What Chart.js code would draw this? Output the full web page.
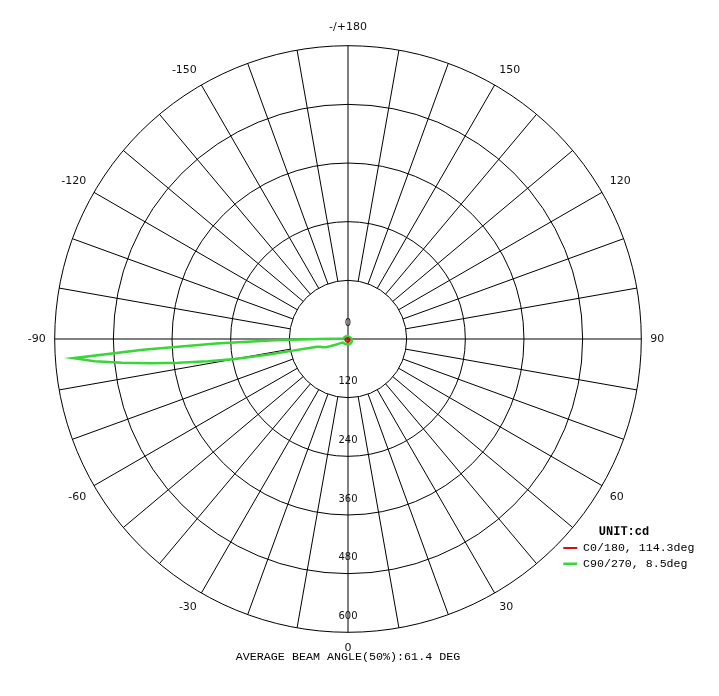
<!DOCTYPE html>
<html>
<head>
<meta charset="utf-8">
<script src="https://cdn.jsdelivr.net/npm/chart.js"></script>
<style>
  html, body { margin: 0; padding: 0; background: #ffffff; }
  canvas { display: block; }
</style>
</head>
<body>
<canvas id="c" width="719" height="696"></canvas>
<script>
// ---- data ----
// angle tick labels (gamma), clockwise from the top
const gammaTickAngles = [180, 150, 120, 90, 60, 30, 0, -30, -60, -90, -120, -150];
const gammaTickLabels = ['-/+180', '150', '120', '90', '60', '30', '0', '-30', '-60', '-90', '-120', '-150'];
// radial (intensity) ticks, cd
const ringTicks = [0, 120, 240, 360, 480, 600];

// C0/180 curve (cd) at gamma angles
const c0Angles = [180, 150, 120, 90, 60, 30, 0, -30, -60, -90, -120, -150];
const c0Values = [2, 2, 2, 3, 4, 5, 6, 6, 6, 5, 3, 2];

// C90/270 curve (cd) at gamma angles
const c90Angles = [180, 165, 150, 135, 120, 105, 90, 75, 60, 45, 30, 15, 0, -15, -30, -45, -55, -60, -62, -65,
                   -68, -70, -72, -74, -76, -77, -78, -79, -80, -81, -82, -83, -84, -85, -86, -87, -88, -89, -90, -91,
                   -92, -95, -105, -120, -135, -150, -165];
const c90Values = [6, 5, 5, 5, 5, 6, 7, 8, 9, 10, 10, 11, 11, 11, 12, 12, 13, 16, 19, 28,
                   40, 50, 55, 58, 65, 85, 112, 165, 235, 290, 350, 405, 465, 520, 563, 420, 270, 150, 60, 22,
                   12, 10, 9, 8, 7, 7, 6];

const seriesLabels = ['C0/180, 114.3deg', 'C90/270, 8.5deg'];
const unitText = 'UNIT:cd';
const footerText = 'AVERAGE BEAM ANGLE(50%):61.4 DEG';

// ---- build the radar categories (1 degree steps, clockwise from top) ----
const categories = [];
for (let i = 0; i < 360; i++) categories.push(180 - i);
function idxOf(a) { return (((180 - a) % 360) + 360) % 360; }
function toSeries(angles, values) {
  const arr = new Array(categories.length).fill(null);
  angles.forEach((a, k) => { arr[idxOf(a)] = values[k]; });
  return arr;
}

const RED = '#c81414';
const GREEN = 'rgb(55,215,55)';

const ringLabelPlugin = {
  id: 'ringLabels',
  beforeDatasetsDraw(chart) {
    const s = chart.scales.r;
    const ctx = chart.ctx;
    ctx.save();
    ctx.font = '10px "DejaVu Sans"';
    ctx.fillStyle = '#111';
    ctx.textAlign = 'center';
    ctx.textBaseline = 'middle';
    ringTicks.forEach(v => {
      ctx.fillText(String(v), s.xCenter, s.yCenter + s.getDistanceFromCenterForValue(v) - 16);
    });
    ctx.restore();
  }
};

const legendPlacePlugin = {
  id: 'legendPlace',
  afterLayout(chart) {
    const lg = chart.legend;
    if (!lg) return;
    lg.left = 559.3;
    lg.top = 526.3;
    lg.width = 129.4;
    lg.right = 719;
    lg.bottom = 696;
    lg.height = 696 - 526.3;
  }
};

Chart.defaults.font.family = '"DejaVu Sans"';

new Chart(document.getElementById('c'), {
  type: 'radar',
  data: {
    labels: categories,
    datasets: [
      { label: seriesLabels[0], data: toSeries(c0Angles, c0Values), borderColor: RED, backgroundColor: RED,
        borderWidth: 2, pointRadius: 0, pointHoverRadius: 0, fill: false, spanGaps: true, tension: 0 },
      { label: seriesLabels[1], data: toSeries(c90Angles, c90Values), borderColor: GREEN, backgroundColor: GREEN,
        borderWidth: 2.5, pointRadius: 0, pointHoverRadius: 0, fill: false, spanGaps: true, tension: 0 }
    ]
  },
  options: {
    responsive: false,
    animation: false,
    devicePixelRatio: 1,
    events: [],
    layout: { padding: { left: 0, right: 23, top: 20, bottom: 0 } },
    scales: {
      r: {
        min: 0,
        max: 600,
        startAngle: 0,
        ticks: { display: false, stepSize: 120 },
        grid: { circular: true, color: '#000', lineWidth: 1 },
        angleLines: {
          display: true,
          color: '#000',
          lineWidth: (c) => (c.index % 10 === 0 ? 1 : 0),
          borderDash: (c) => {
            if (c.index % 90 === 0) return [];
            const r1 = c.chart.scales.r.getDistanceFromCenterForValue(ringTicks[1]);
            return [0, r1, 3000, 0];
          }
        },
        pointLabels: {
          display: true,
          color: '#111',
          font: { family: '"DejaVu Sans"', size: 11 },
          padding: (c) => (c.index === 0 ? 11.5 : 9),
          callback: (value) => {
            const k = gammaTickAngles.indexOf(value);
            return k >= 0 ? gammaTickLabels[k] : '';
          }
        }
      }
    },
    plugins: {
      tooltip: { enabled: false },
      title: {
        display: true,
        position: 'bottom',
        text: footerText,
        color: '#000',
        font: { family: '"Liberation Mono"', size: 11.7, weight: 'normal', lineHeight: 1.2 },
        padding: { top: -5.7, bottom: 31.66 }
      },
      legend: {
        display: true,
        position: 'chartArea',
        align: 'start',
        title: {
          display: true,
          text: unitText,
          color: '#000',
          font: { family: '"Liberation Mono"', size: 12, weight: 'bold', lineHeight: 1 },
          padding: 0
        },
        labels: {
          usePointStyle: true,
          pointStyle: 'line',
          pointStyleWidth: 14,
          color: '#000',
          padding: 4,
          font: { family: '"Liberation Mono"', size: 11.6 }
        }
      }
    }
  },
  plugins: [ringLabelPlugin, legendPlacePlugin]
});
</script>
</body>
</html>
